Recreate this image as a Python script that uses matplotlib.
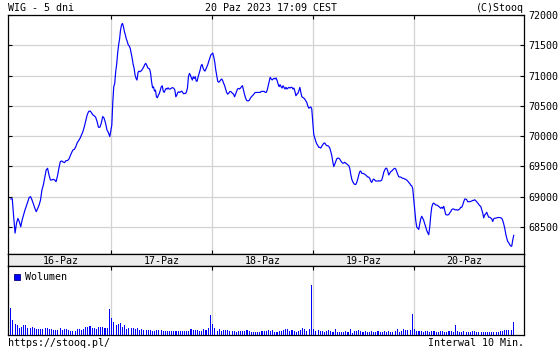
import numpy as np
import matplotlib
matplotlib.use("Agg")
import matplotlib.pyplot as plt
from matplotlib.patches import Rectangle

# ---------------- data ----------------
day_labels = ["16-Paz", "17-Paz", "18-Paz", "19-Paz", "20-Paz"]
price_ticks = [68500, 69000, 69500, 70000, 70500, 71000, 71500, 72000]

wig_day1 = [68963, 68968, 68671, 68400, 68560, 68643, 68588, 68505, 68616, 68698, 68781, 68847,
            68919, 68990, 69001, 68946, 68880, 68808, 68753, 68808, 68863, 68946, 69112, 69194,
            69321, 69442, 69470, 69360, 69277, 69277, 69288, 69277, 69249, 69343, 69470, 69580,
            69591, 69574, 69563, 69596, 69596, 69618, 69673, 69729, 69773, 69784, 69828, 69894,
            69927, 69966, 70021, 70076, 70158, 70258, 70351, 70406, 70417, 70390, 70351, 70335,
            70313, 70241, 70147, 70147, 70214, 70324, 70296, 70214, 70103, 70059, 69993]
wig_day2 = [70182, 70556, 70815, 70870, 71063, 71185, 71366, 71504, 71603, 71752, 71835, 71862,
            71807, 71725, 71669, 71603, 71559, 71504, 71488, 71449, 71366, 71284, 71185, 71118,
            71008, 70953, 70926, 71052, 71074, 71063, 71074, 71091, 71118, 71146, 71185, 71201,
            71173, 71129, 71118, 71107, 71036, 70898, 70799, 70815, 70744, 70760, 70650, 70634,
            70678, 70705, 70760, 70815, 70832, 70744, 70722, 70760, 70788, 70777, 70799, 70777,
            70777, 70788, 70799, 70799, 70788, 70760, 70650, 70678, 70722, 70733, 70722, 70733,
            70744, 70722, 70700, 70705, 70705, 70733, 70799, 70981, 71036, 71008, 70964, 70926,
            70981, 70953, 70981, 70909, 70909, 70981, 71036, 71091, 71162, 71185, 71129, 71091,
            71074, 71107, 71146, 71185, 71240, 71284, 71339]
wig_day3 = [71372, 71306, 71222, 71094, 71000, 70906, 70889, 70906, 70928, 70944, 70917, 70872,
            70833, 70778, 70722, 70694, 70706, 70733, 70739, 70722, 70706, 70694, 70650, 70694,
            70739, 70778, 70789, 70778, 70794, 70817, 70833, 70761, 70694, 70639, 70594, 70583,
            70583, 70594, 70628, 70650, 70667, 70683, 70706, 70722, 70722, 70722, 70722, 70722,
            70722, 70739, 70739, 70739, 70739, 70722, 70722, 70761, 70833, 70906, 70972, 70944,
            70928, 70944, 70956, 70944, 70961, 70917, 70861, 70817, 70850, 70817, 70794, 70833,
            70806, 70778, 70806, 70778, 70794, 70806, 70794, 70806, 70806, 70778, 70794, 70739,
            70667, 70694, 70706, 70750, 70806, 70722, 70650, 70639, 70628, 70611, 70583, 70556,
            70500, 70461, 70472, 70483, 70450]
wig_day4 = [70027, 69971, 69915, 69871, 69849, 69815, 69815, 69804, 69832, 69860, 69882, 69888,
            69860, 69843, 69843, 69832, 69804, 69748, 69682, 69581, 69498, 69537, 69581, 69626,
            69637, 69637, 69620, 69593, 69570, 69554, 69554, 69570, 69554, 69542, 69526, 69515,
            69470, 69370, 69292, 69247, 69220, 69203, 69203, 69236, 69292, 69359, 69414, 69425,
            69386, 69386, 69381, 69370, 69359, 69342, 69325, 69325, 69303, 69259, 69236, 69275,
            69292, 69275, 69259, 69259, 69259, 69264, 69259, 69264, 69275, 69331, 69403, 69442,
            69470, 69470, 69425, 69359, 69386, 69414, 69425, 69442, 69459, 69470, 69459, 69414,
            69370, 69331, 69325, 69325, 69314, 69303, 69303, 69292, 69286, 69275, 69259, 69236,
            69220, 69192, 69181, 69136]
wig_day5 = [68771, 68608, 68499, 68482, 68460, 68553, 68635, 68678, 68646, 68608, 68553, 68499,
            68444, 68406, 68373, 68499, 68689, 68826, 68880, 68896, 68880, 68864, 68864, 68853,
            68842, 68826, 68809, 68826, 68809, 68842, 68771, 68706, 68700, 68700, 68706, 68733,
            68755, 68787, 68798, 68798, 68787, 68782, 68787, 68777, 68787, 68798, 68826, 68826,
            68864, 68918, 68962, 68962, 68951, 68918, 68918, 68918, 68924, 68929, 68940, 68940,
            68951, 68935, 68918, 68896, 68875, 68853, 68842, 68787, 68733, 68651, 68700, 68717,
            68744, 68700, 68662, 68662, 68651, 68635, 68591, 68635, 68646, 68646, 68651, 68657,
            68657, 68657, 68651, 68646, 68608, 68553, 68482, 68390, 68319, 68264, 68242, 68210,
            68188, 68182, 68280, 68362]

vol_day1 = [27, 15, 11, 10, 7.3, 7.7, 10, 10, 7, 7, 8.3, 7, 6.3, 6, 6, 6.3, 7, 6.7, 6.3, 6, 5, 5,
            5, 7, 5, 5.7, 5.7, 5, 4.3, 4.3, 4.3, 6, 6, 5, 6.3, 8.3, 7.7, 9, 6.7, 7.3, 6, 7.7, 8.3,
            8.3, 6.7, 7.3, 26]
vol_day2 = [17, 13, 10.3, 11, 12, 7.7, 10, 5.7, 6.7, 7, 6.7, 6, 7, 5, 5.7, 5, 5, 5, 5, 4.3, 4.3,
            5, 5, 5, 4.3, 4.3, 4.3, 4.3, 4.3, 4.3, 4.3, 4.3, 3.7, 4.3, 4.3, 3.7, 4.3, 6, 5, 5, 5,
            4.3, 4.3, 6, 5, 6.7, 20]
vol_day3 = [11, 6.7, 4.3, 5.7, 4.3, 5, 5.3, 5, 4.3, 3.7, 4.3, 3.3, 4.3, 4.3, 4.3, 3.7, 5, 4.3,
            3.3, 3.3, 3.3, 3.3, 3.3, 4.3, 4.3, 4.3, 5, 4.3, 5, 3.3, 3.3, 3.7, 4.3, 5, 6, 6, 4.3, 5,
            4.3, 3.3, 4.3, 5, 7, 5.7, 4.3, 6, 50]
vol_day4 = [5.7, 4.3, 5, 4.3, 4.3, 3, 4.3, 5, 4.3, 3, 6, 3.3, 3.3, 3.3, 3.3, 4.3, 3.3, 6, 2.3,
            4.3, 4.3, 5, 3.7, 2.7, 3.7, 3.3, 3.3, 4.3, 3.3, 3.3, 4.3, 3.3, 3.3, 4.3, 3.3, 3.7, 3.3,
            3.3, 4.3, 6, 3.3, 4.3, 6, 5, 5, 5, 21]
vol_day5 = [6, 4.3, 4.3, 4.3, 3, 4.3, 4.3, 3.3, 4.3, 4.3, 3.3, 3.3, 4.3, 4.3, 3.3, 3.3, 4.3, 4.3,
            3.3, 10, 4.3, 3.3, 3.3, 4.3, 3.3, 3.3, 3.3, 4.3, 4.3, 3.3, 3.3, 3.3, 3.3, 3.3, 3.3,
            3.3, 3.3, 3.3, 3.3, 3.3, 3.7, 4.3, 5, 5, 5, 5, 13]

wig_days = [wig_day1, wig_day2, wig_day3, wig_day4, wig_day5]
vol_days = [vol_day1, vol_day2, vol_day3, vol_day4, vol_day5]

# ---------------- layout ----------------
W, H = 560, 350
FONT = "DejaVu Sans Mono"
FS = 7.2
BLUE = "#0000ff"
GRID = "#d3d3d3"

plt.rcParams["font.family"] = FONT

fig = plt.figure(figsize=(W / 100, H / 100), dpi=100)
fig.patch.set_facecolor("white")


def fx(px):
    return px / W


def fy(py):
    return 1 - py / H


L, R = 8, 524
TOP, MAIN_B, BAND_B, VOL_B = 15, 254, 266, 335
XLIM = (-0.023, 5.087)

ax = fig.add_axes([fx(L), fy(MAIN_B), (R - L) / W, (MAIN_B - TOP) / H])
band = fig.add_axes([fx(L), fy(BAND_B), (R - L) / W, (BAND_B - MAIN_B) / H])
axv = fig.add_axes([fx(L), fy(VOL_B), (R - L) / W, (VOL_B - BAND_B) / H])

# price line
xs, ys = [], []
for d, day in enumerate(wig_days):
    xs.append(d + np.linspace(0.005, 0.985, len(day)))
    ys.append(np.asarray(day, dtype=float))
ax.plot(np.concatenate(xs), np.concatenate(ys), color=BLUE, lw=0.85, zorder=3)

ax.set_xlim(*XLIM)
ax.set_ylim(68055, 72000)
ax.set_yticks(price_ticks)
ax.set_yticklabels([str(v) for v in price_ticks], fontsize=FS)
ax.set_xticks([1, 2, 3, 4])
ax.set_xticklabels([])
ax.grid(True, color=GRID, lw=0.9, zorder=0)
ax.tick_params(axis="y", direction="in", left=True, right=True, labelleft=False,
               labelright=True, length=3, width=0.8, pad=3, labelsize=FS)
ax.tick_params(axis="x", direction="in", bottom=True, top=True, length=3, width=0.8)
for s in ax.spines.values():
    s.set_color("black")
    s.set_linewidth(0.9)

# band with day labels
band.set_xlim(*XLIM)
band.set_ylim(0, 1)
band.set_facecolor("#ececec")
band.set_xticks([])
band.set_yticks([])
for d, lab in enumerate(day_labels):
    band.text(d + 0.5, 0.45, lab, ha="center", va="center", fontsize=FS)
for s in band.spines.values():
    s.set_color("black")
    s.set_linewidth(0.9)

# volume panel
for d, vols in enumerate(vol_days):
    vx = d + np.linspace(0.005, 0.98, len(vols))
    axv.bar(vx, vols, width=0.0105, color=BLUE, linewidth=0, antialiased=False, zorder=3)
axv.set_xlim(*XLIM)
axv.set_ylim(0, 69)
axv.set_xticks([1, 2, 3, 4])
axv.set_xticklabels([])
axv.set_yticks([])
axv.grid(True, axis="x", color=GRID, lw=0.9, zorder=0)
axv.tick_params(axis="x", direction="in", bottom=False, top=True, length=3, width=0.8)
for s in axv.spines.values():
    s.set_color("black")
    s.set_linewidth(0.9)

# legend for volume
fig.patches.append(Rectangle((fx(14), fy(279.5)), 6 / W, 6 / H, transform=fig.transFigure,
                             facecolor=BLUE, edgecolor="#000080", linewidth=0.6))
fig.text(fx(25), fy(280), "Wolumen", ha="left", va="baseline", fontsize=FS)

# header / footer texts
fig.text(fx(8), fy(10.7), "WIG - 5 dni", ha="left", va="baseline", fontsize=FS)
fig.text(fx(271), fy(10.7), "20 Paz 2023 17:09 CEST", ha="center", va="baseline", fontsize=FS)
fig.text(fx(524), fy(10.7), "(C)Stooq", ha="right", va="baseline", fontsize=FS)
fig.text(fx(8), fy(345.5), "https://stooq.pl/", ha="left", va="baseline", fontsize=FS)
fig.text(fx(524), fy(346.5), "Interwal 10 Min.", ha="right", va="baseline", fontsize=FS)

fig.savefig("out.png", dpi=100, facecolor="white")
